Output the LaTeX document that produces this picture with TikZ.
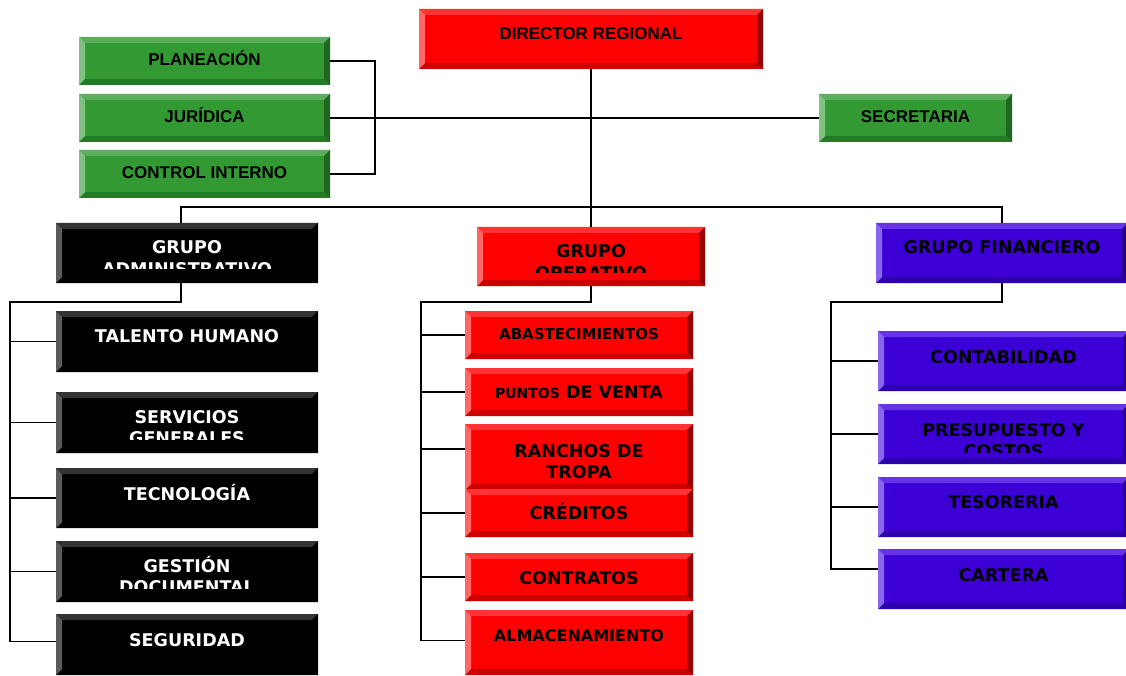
\documentclass[tikz,border=0pt]{standalone}
\usepackage{fontspec}
\newfontfamily\arialfont{Liberation Sans}
\newfontfamily\verdfont{DejaVu Sans}

\definecolor{rmain}{HTML}{FF0000}
\definecolor{rtop}{HTML}{FF3333}
\definecolor{rleft}{HTML}{FF6666}
\definecolor{rright}{HTML}{990000}
\definecolor{rbot}{HTML}{CC0000}
\definecolor{gmain}{HTML}{339933}
\definecolor{gtop}{HTML}{5CAD5C}
\definecolor{gleft}{HTML}{80C080}
\definecolor{gright}{HTML}{1F661F}
\definecolor{gbot}{HTML}{267A26}
\definecolor{ktop}{HTML}{333333}
\definecolor{kleft}{HTML}{5A5A5A}
\definecolor{pmain}{RGB}{60,0,215}
\definecolor{ptop}{RGB}{102,51,230}
\definecolor{pleft}{RGB}{136,102,238}
\definecolor{pright}{RGB}{36,0,138}
\definecolor{pbot}{RGB}{46,0,170}

\newcommand\bevw{6pt}

\tikzset{
  conn/.style={draw=black, line width=1.8pt},
  rbox/.style n args={5}{draw=none, fill=#1, inner sep=0pt, outer sep=0pt,
    path picture={
      \coordinate (bnw) at (path picture bounding box.north west);
      \coordinate (bne) at (path picture bounding box.north east);
      \coordinate (bsw) at (path picture bounding box.south west);
      \coordinate (bse) at (path picture bounding box.south east);
      \fill[#2] (bnw) -- (bne) -- ([shift={(-\bevw,-\bevw)}]bne) -- ([shift={(\bevw,-\bevw)}]bnw) -- cycle;
      \fill[#5] (bsw) -- (bse) -- ([shift={(-\bevw,\bevw)}]bse) -- ([shift={(\bevw,\bevw)}]bsw) -- cycle;
      \fill[#3] (bnw) -- ([shift={(\bevw,-\bevw)}]bnw) -- ([shift={(\bevw,\bevw)}]bsw) -- (bsw) -- cycle;
      \fill[#4] (bne) -- ([shift={(-\bevw,-\bevw)}]bne) -- ([shift={(-\bevw,\bevw)}]bse) -- (bse) -- cycle;
    }},
  redbox/.style={rbox={rmain}{rtop}{rleft}{rright}{rbot}},
  greenbox/.style={rbox={gmain}{gtop}{gleft}{gright}{gbot}},
  blackbox/.style={rbox={black}{ktop}{kleft}{black}{black}},
  violetbox/.style={rbox={pmain}{ptop}{pleft}{pright}{pbot}},
  atxt/.style={font=\arialfont\bfseries\fontsize{17}{20}\selectfont, anchor=base, inner sep=0pt, align=center},
  vtxt/.style={font=\verdfont\bfseries\fontsize{17.5}{21}\selectfont, anchor=base, inner sep=0pt, align=center},
  wtxt/.style={vtxt, text=white}
}

\begin{document}
\begin{tikzpicture}[x=1pt,y=-1pt]
\useasboundingbox[fill=white] (0,0) rectangle (1126,676);

% top level
\node[redbox, minimum width=344pt, minimum height=60pt] (dir) at (591,39) {};
\node[atxt] (dir-t) at ([yshift=-31pt]dir.north) {DIRECTOR REGIONAL};

\node[greenbox, minimum width=251pt, minimum height=48pt] (plan) at (204.5,61) {};
\node[atxt] (plan-t) at ([yshift=-29pt]plan.north) {PLANEACIÓN};
\node[greenbox, minimum width=251pt, minimum height=48pt] (jur) at (204.5,118) {};
\node[atxt] (jur-t) at ([yshift=-29pt]jur.north) {JURÍDICA};
\node[greenbox, minimum width=251pt, minimum height=48pt] (ci) at (204.5,174) {};
\node[atxt] (ci-t) at ([yshift=-29pt]ci.north) {CONTROL INTERNO};
\node[greenbox, minimum width=193pt, minimum height=48pt] (sec) at (915.5,118) {};
\node[atxt] (sec-t) at ([yshift=-29pt]sec.north) {SECRETARIA};

% grupos
\node[blackbox, minimum width=262pt, minimum height=60pt] (gadm) at (187,253) {};
\begin{scope}
  \clip (gadm.north west) rectangle ([yshift=15pt]gadm.south east);
  \node[wtxt] (gadm-t) at ([yshift=-52pt]gadm.north) {GRUPO\\ADMINISTRATIVO};
\end{scope}
\node[redbox, minimum width=228pt, minimum height=59pt] (gop) at (591,256.5) {};
\begin{scope}
  \clip (gop.north west) rectangle ([yshift=14pt]gop.south east);
  \node[vtxt] (gop-t) at ([yshift=-52pt]gop.north) {GRUPO\\OPERATIVO};
\end{scope}
\node[violetbox, minimum width=252pt, minimum height=60pt] (gfin) at (1002,253) {};
\node[vtxt] (gfin-t) at ([yshift=-31pt]gfin.north) {GRUPO FINANCIERO};

% administrativo
\node[blackbox, minimum width=262pt, minimum height=61pt] (tal) at (187,341.5) {};
\node[wtxt] (tal-t) at ([yshift=-31pt]tal.north) {TALENTO HUMANO};
\node[blackbox, minimum width=262pt, minimum height=61pt] (serv) at (187,422.5) {};
\begin{scope}
  \clip (serv.north west) rectangle ([yshift=14pt]serv.south east);
  \node[wtxt] (serv-t) at ([yshift=-52pt]serv.north) {SERVICIOS\\GENERALES};
\end{scope}
\node[blackbox, minimum width=262pt, minimum height=60pt] (tec) at (187,498) {};
\node[wtxt] (tec-t) at ([yshift=-32pt]tec.north) {TECNOLOGÍA};
\node[blackbox, minimum width=262pt, minimum height=61pt] (ges) at (187,571.5) {};
\begin{scope}
  \clip (ges.north west) rectangle ([yshift=14pt]ges.south east);
  \node[wtxt] (ges-t) at ([yshift=-52pt]ges.north) {GESTIÓN\\DOCUMENTAL};
\end{scope}
\node[blackbox, minimum width=262pt, minimum height=61pt] (seg) at (187,644.5) {};
\node[wtxt] (seg-t) at ([yshift=-32pt]seg.north) {SEGURIDAD};

% operativo
\node[redbox, minimum width=228pt, minimum height=48pt] (aba) at (579,335) {};
\node[vtxt, font=\verdfont\bfseries\fontsize{15}{18}\selectfont] (aba-t) at ([yshift=-28pt]aba.north) {ABASTECIMIENTOS};
\node[redbox, minimum width=228pt, minimum height=48pt] (pun) at (579,392) {};
\node[vtxt] (pun-t) at ([yshift=-30pt]pun.north) {{\fontsize{14}{17}\selectfont PUNTOS} DE VENTA};
\node[redbox, minimum width=228pt, minimum height=66pt] (ran) at (579,457) {};
\node[vtxt] (ran-t) at ([yshift=-54pt]ran.north) {RANCHOS DE\\TROPA};
\node[redbox, minimum width=228pt, minimum height=48pt] (cre) at (579,513) {};
\node[vtxt] (cre-t) at ([yshift=-30pt]cre.north) {CRÉDITOS};
\node[redbox, minimum width=228pt, minimum height=48pt] (con) at (579,577) {};
\node[vtxt] (con-t) at ([yshift=-31pt]con.north) {CONTRATOS};
\node[redbox, minimum width=228pt, minimum height=65pt] (alm) at (579,642.5) {};
\node[vtxt, font=\verdfont\bfseries\fontsize{16}{19}\selectfont] (alm-t) at ([yshift=-31pt]alm.north) {ALMACENAMIENTO};

% financiero
\node[violetbox, minimum width=251pt, minimum height=60pt] (cont) at (1003.5,361) {};
\node[vtxt] (cont-t) at ([yshift=-32pt]cont.north) {CONTABILIDAD};
\node[violetbox, minimum width=251pt, minimum height=60pt] (pres) at (1003.5,434) {};
\begin{scope}
  \clip (pres.north west) rectangle ([yshift=12pt]pres.south east);
  \node[vtxt] (pres-t) at ([yshift=-53pt]pres.north) {PRESUPUESTO Y\\COSTOS};
\end{scope}
\node[violetbox, minimum width=251pt, minimum height=60pt] (tes) at (1003.5,507) {};
\node[vtxt] (tes-t) at ([yshift=-31pt]tes.north) {TESORERIA};
\node[violetbox, minimum width=251pt, minimum height=60pt] (car) at (1003.5,579) {};
\node[vtxt] (car-t) at ([yshift=-32pt]car.north) {CARTERA};

% connectors
\draw[conn] (plan.east) -- ++(45,0) |- (ci.east);
\draw[conn] (jur.east) -- (sec.west);
\draw[conn] (dir.south) -- (gop.north);
\coordinate (bus) at (591,207);
\draw[conn] ([xshift=-6pt]gadm.north) |- (bus) -| (gfin.north);

\coordinate (adm-bus) at (10,302);
\draw[conn] ([xshift=-6pt]gadm.south) |- (adm-bus) |- ([yshift=3pt]seg.west);
\foreach \n in {tal,serv,tec,ges}
  \draw[conn] (adm-bus |- \n.west) -- (\n.west);

\coordinate (op-bus) at (421,302);
\draw[conn] (gop.south) |- (op-bus) |- ([yshift=2pt]alm.west);
\foreach \n in {aba,pun,cre,con}
  \draw[conn] (op-bus |- \n.west) -- (\n.west);
\draw[conn] (op-bus |- 0,449) -- (ran.west |- 0,449);

\coordinate (fin-bus) at (831,302);
\draw[conn] (gfin.south) |- (fin-bus) |- ([yshift=10pt]car.west);
\foreach \n in {cont,pres,tes}
  \draw[conn] (fin-bus |- \n.west) -- (\n.west);
\end{tikzpicture}
\end{document}
